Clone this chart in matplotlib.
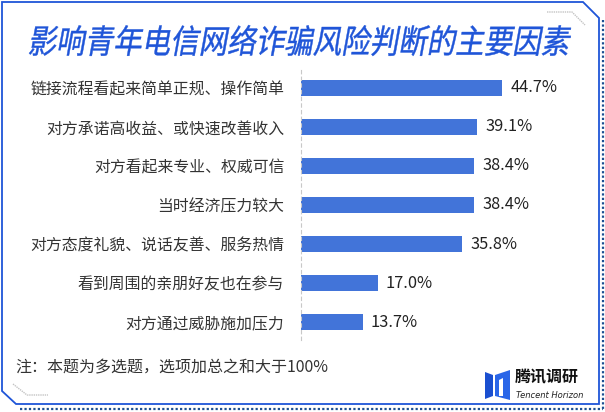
import matplotlib
matplotlib.use("Agg")
import matplotlib.pyplot as plt
from matplotlib.textpath import TextPath
from matplotlib.patches import PathPatch, Polygon
from matplotlib.font_manager import FontProperties
from matplotlib.transforms import Affine2D
from matplotlib.lines import Line2D

W, H = 605, 412
plt.rcParams['font.family'] = ['Noto Sans CJK SC', 'DejaVu Sans']

title = "影响青年电信网络诈骗风险判断的主要因素"
factors = ["链接流程看起来简单正规、操作简单",
           "对方承诺高收益、或快速改善收入",
           "对方看起来专业、权威可信",
           "当时经济压力较大",
           "对方态度礼貌、说话友善、服务热情",
           "看到周围的亲朋好友也在参与",
           "对方通过威胁施加压力"]
values = [44.7, 39.1, 38.4, 38.4, 35.8, 17.0, 13.7]
note = "注：本题为多选题，选项加总之和大于100%"

blue = "#1f55d8"
barc = "#4274d9"


def px(x, y):
    # pixel coords (top-left origin) -> figure fraction
    return x / W, 1 - y / H


fig = plt.figure(figsize=(W / 100, H / 100), dpi=100)

# frame with cut corners
frame = [(2, 2), (583, 2), (599, 18), (599, 404), (16, 404), (2, 391)]
fig.add_artist(Polygon([px(*p) for p in frame], closed=True, fill=False,
                       edgecolor=blue, lw=1.3, transform=fig.transFigure))
# dotted shadow
for pts in ([(603, 20), (603, 409)], [(20, 409), (603, 409)]):
    xs, ys = zip(*[px(*p) for p in pts])
    fig.add_artist(Line2D(xs, ys, color="#1d4f91", lw=1.6, ls=(0, (1, 1)),
                          transform=fig.transFigure))
# grey corner marks
for pts in ([(547, 12), (572, 12), (585, 25)], [(13, 384), (27, 395), (48, 395)]):
    xs, ys = zip(*[px(*p) for p in pts])
    fig.add_artist(Line2D(xs, ys, color="#c4c4c4", lw=1.0, ls=(0, (1, 0.6)),
                          transform=fig.transFigure))

# title as skewed path (fake italic)
tp = TextPath((0, 0), title, size=100,
              prop=FontProperties(family='Noto Sans CJK SC', weight=500))
p = Affine2D().skew_deg(12, 0).transform_path(tp)
ext = p.get_extents()
x0, x1, yt, yb = 29, 571, 25, 56
tr = (Affine2D().translate(-ext.x0, -ext.y0)
      .scale((x1 - x0) / ext.width / W, (yb - yt) / ext.height / H)
      .translate(x0 / W, 1 - yb / H))
fig.add_artist(PathPatch(tr.transform_path(p), facecolor=blue, edgecolor=blue,
                         lw=0.3, transform=fig.transFigure))

# bars
ax = fig.add_axes([301 / W, 1 - 340 / H, 297 / W, 270 / H])
ax.patch.set_alpha(0)
pos = list(range(len(factors)))
ax.barh(pos, values, height=0.41, color=barc)
ax.set_xlim(0, 297 / 4.5)
ax.set_ylim(6.46, -0.46)
ax.set_yticks(pos)
ax.set_yticklabels(factors, fontsize=11.4, color="#333333")
ax.tick_params(axis='y', length=0, pad=12)
ax.set_xticks([])
for s in ['top', 'right', 'bottom']:
    ax.spines[s].set_visible(False)
ax.spines['left'].set_linestyle((0, (3, 3)))
ax.spines['left'].set_color('#c8c8c8')
ax.spines['left'].set_linewidth(0.8)
for i, v in enumerate(values):
    ax.annotate(f"{v:.1f}%", (v, i), xytext=(6, 0), textcoords='offset points',
                va='center', ha='left', fontsize=11.8, color='#222222')

# footnote
fig.text(*px(15, 368), note, fontsize=11.5, color="#333333", va='center', ha='left')

# logo
icon_l = [(485, 372), (493, 375), (493, 396), (485, 399)]
icon_r = [(495, 375), (510, 370), (510, 400), (495, 396)]
fig.add_artist(Polygon([px(*q) for q in icon_l], closed=True, color="#1a4fd0",
                       lw=0, transform=fig.transFigure))
fig.add_artist(Polygon([px(*q) for q in icon_r], closed=True, color="#2a66e8",
                       lw=0, transform=fig.transFigure))
fig.add_artist(Polygon([px(*q) for q in [(499, 380), (503, 378), (503, 396), (499, 396)]],
                       closed=True, color="white", lw=0, transform=fig.transFigure))
fig.text(*px(515, 377), "腾讯调研", fontsize=11.5, fontweight='bold', color="#111111",
         va='center', ha='left')
fig.text(*px(516, 396), "Tencent Horizon", fontsize=6, fontstyle='italic',
         color="#222222", va='center', ha='left', family='DejaVu Sans')

fig.savefig("out.png", dpi=100)
